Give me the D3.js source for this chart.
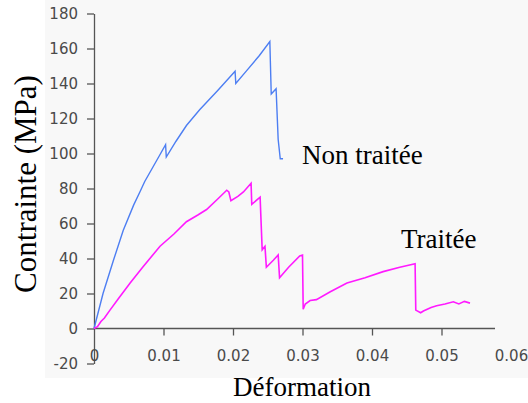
<!DOCTYPE html>
<html>
<head>
<meta charset="utf-8">
<script src="https://cdn.jsdelivr.net/npm/d3@7"></script>
<style>
    body { margin: 0; background: #fff; }
    svg { display: block; }
</style>
</head>
<body>
<svg id="chart"></svg>
<script>
"use strict";

// strain / stress points
const nonTraiteeStrain = [0, 0.0002, 0.0013, 0.0028, 0.0042, 0.0057, 0.0066, 0.0073, 0.0083, 0.0093, 0.0103, 0.0104,
    0.0118, 0.0133, 0.0152, 0.0178, 0.0203, 0.0204, 0.0220, 0.0238, 0.0253, 0.0255, 0.0262, 0.0265, 0.0268, 0.0272];
const nonTraiteeStress = [0, 3, 20, 39, 56, 70.5, 78, 84, 91, 98, 105, 98,
    107, 116, 125, 136, 147, 140, 147.5, 156, 164, 134, 137, 108, 97, 97];

const traiteeStrain = [0, 0.0005, 0.0010, 0.0015, 0.0023, 0.0035, 0.0052, 0.0070, 0.0095, 0.0115, 0.0133, 0.0150,
    0.0162, 0.0178, 0.0191, 0.0194, 0.0197, 0.0207, 0.0215, 0.0226, 0.0227, 0.0239, 0.0242, 0.0246, 0.0248,
    0.0258, 0.0265, 0.0267, 0.0280, 0.0296, 0.0300, 0.0301, 0.0304, 0.0311, 0.0320, 0.0340, 0.0364, 0.0390,
    0.0416, 0.0440, 0.0462, 0.0463, 0.0470, 0.0474, 0.0485, 0.0493, 0.0505, 0.0517, 0.0525, 0.0533, 0.0541];
const traiteeStress = [0, 1, 4, 6, 10.5, 17, 26, 35, 47, 54, 61, 65,
    68, 74, 79, 78, 73, 75.5, 78, 83, 71, 75, 45, 47, 35,
    39, 42, 29, 35, 41.5, 42, 11, 14, 16, 16.5, 21, 26, 29,
    32.5, 35, 37, 10.5, 9, 10, 12, 13, 14, 15.3, 14, 15.5, 14.5];

const xTicks = [0, 0.01, 0.02, 0.03, 0.04, 0.05, 0.06];
const yTicks = [-20, 0, 20, 40, 60, 80, 100, 120, 140, 160, 180];
const xAxisEnd = 0.0577;

const width = 528;
const height = 403;

const svg = d3.select("#chart")
    .attr("width", width)
    .attr("height", height);

// light grey backdrop of the pasted plot
svg.append("rect")
    .attr("x", 45).attr("y", 0)
    .attr("width", width - 45).attr("height", 378)
    .attr("fill", "#f8f8f8");

const x = d3.scaleLinear().domain([0, 0.06]).range([94, 511]);
const y = d3.scaleLinear().domain([-20, 180]).range([363.5, 13.5]);

const axisColor = "#555";
const tickFont = "DejaVu Sans, sans-serif";

// y axis
const yAxis = svg.append("g")
    .attr("transform", `translate(${x(0)},0)`)
    .call(d3.axisLeft(y).tickValues(yTicks).tickSize(7).tickSizeOuter(0).tickPadding(9)
        .tickFormat(d => String(d)));

// x axis sits on the zero line
const xAxis = svg.append("g")
    .attr("transform", `translate(0,${y(0)})`)
    .call(d3.axisBottom(x).tickValues(xTicks).tickSize(7).tickSizeOuter(0).tickPadding(15)
        .tickFormat(d => d === 0 ? "0" : d3.format(".2f")(d)));

xAxis.select(".domain").attr("d", `M${x(0)},0H${x(xAxisEnd)}`);
xAxis.selectAll(".tick line").filter(d => d === 0 || d === 0.06).remove();

for (let g of [xAxis, yAxis]) {
    g.select(".domain").attr("stroke", axisColor).attr("stroke-width", 1.3);
    g.selectAll(".tick line").attr("stroke", axisColor).attr("stroke-width", 1.3);
    g.selectAll(".tick text")
        .attr("fill", "#4a4a4a")
        .style("font-family", tickFont)
        .style("font-size", "15px");
}

const line = d3.line()
    .x(d => x(d[0]))
    .y(d => y(d[1]));

svg.append("path")
    .datum(d3.zip(nonTraiteeStrain, nonTraiteeStress))
    .attr("d", line)
    .attr("fill", "none")
    .attr("stroke", "#4d7ef2")
    .attr("stroke-width", 1.4);

svg.append("path")
    .datum(d3.zip(traiteeStrain, traiteeStress))
    .attr("d", line)
    .attr("fill", "none")
    .attr("stroke", "#ff1aff")
    .attr("stroke-width", 1.6);

const serif = "Liberation Serif, Times New Roman, serif";

svg.append("text")
    .attr("x", 302).attr("y", 164)
    .style("font-family", serif).style("font-size", "27px")
    .text("Non traitée");

svg.append("text")
    .attr("x", 401).attr("y", 248)
    .style("font-family", serif).style("font-size", "27px")
    .text("Traitée");

svg.append("text")
    .attr("x", 302).attr("y", 396)
    .attr("text-anchor", "middle")
    .style("font-family", serif).style("font-size", "27px")
    .text("Déformation");

svg.append("text")
    .attr("transform", "translate(36,184) rotate(-90)")
    .attr("text-anchor", "middle")
    .style("font-family", serif).style("font-size", "31px")
    .text("Contrainte (MPa)");
</script>
</body>
</html>
